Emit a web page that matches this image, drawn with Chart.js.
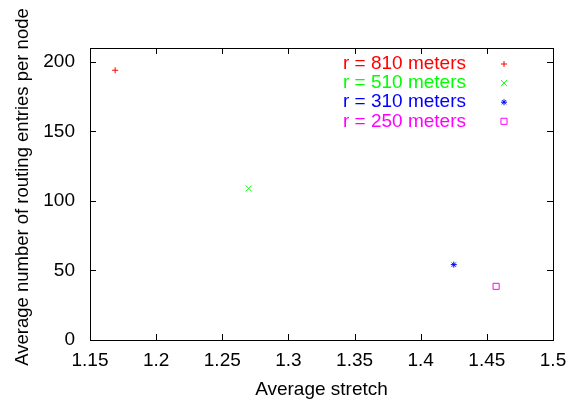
<!DOCTYPE html>
<html>
<head>
<meta charset="utf-8">
<script src="https://cdn.jsdelivr.net/npm/chart.js@4/dist/chart.umd.min.js"></script>
<style>
  html, body { margin: 0; padding: 0; background: #fff; }
  #wrap { width: 584px; height: 403px; }
</style>
</head>
<body>
<div id="wrap"><canvas id="stretchChart" width="584" height="403"></canvas></div>
<script>
// valores
const seriesLabels = ['r = 810 meters', 'r = 510 meters', 'r = 310 meters', 'r = 250 meters'];
const stretchValues = [1.169, 1.270, 1.425, 1.457];
const entryValues = [194, 109, 54.2, 38.6];
const seriesColors = ['#ff0000', '#00ff00', '#0000ff', '#ff00ff'];
const seriesStyles = ['cross', 'crossRot', 'star', 'rect'];
const seriesRadius = [3, 4.2, 3, 4.3];
const xTickValues = [1.15, 1.2, 1.25, 1.3, 1.35, 1.4, 1.45, 1.5];
const yTickValues = [0, 50, 100, 150, 200];
const yTitle = 'Average number of routing entries per node';

const FONT = { family: '"Liberation Sans", Arial, sans-serif', size: 19 };

// moldura + marcas de escala para dentro (estilo gnuplot) + legenda interna
const gnuplotFrame = {
    id: 'gnuplotFrame',
    afterDatasetsDraw(chart) {
        const ctx = chart.ctx;
        const a = chart.chartArea;
        const xs = chart.scales.x, ys = chart.scales.y;
        const tick = 6;
        ctx.save();
        ctx.strokeStyle = '#000';
        ctx.lineWidth = 1;
        ctx.beginPath();
        xs.ticks.forEach(t => {
            const px = Math.round(xs.getPixelForValue(t.value)) + 0.5;
            ctx.moveTo(px, a.bottom); ctx.lineTo(px, a.bottom - tick);
            ctx.moveTo(px, a.top); ctx.lineTo(px, a.top + tick);
        });
        ys.ticks.forEach(t => {
            const py = Math.round(ys.getPixelForValue(t.value)) + 0.5;
            ctx.moveTo(a.left, py); ctx.lineTo(a.left + tick, py);
            ctx.moveTo(a.right, py); ctx.lineTo(a.right - tick, py);
        });
        ctx.stroke();
        ctx.strokeRect(Math.round(a.left) + 0.5, Math.round(a.top) + 0.5,
            Math.round(a.right - a.left), Math.round(a.bottom - a.top));

        // título do eixo y (um pouco acima do centro, como no original)
        ctx.save();
        ctx.translate(23, (a.top + a.bottom) / 2 - 7);
        ctx.rotate(-Math.PI / 2);
        ctx.font = '18.5px ' + FONT.family;
        ctx.fillStyle = '#000';
        ctx.textAlign = 'center';
        ctx.textBaseline = 'middle';
        ctx.fillText(yTitle, 0, 0);
        ctx.restore();

        // legenda
        ctx.font = FONT.size + 'px ' + FONT.family;
        ctx.textAlign = 'right';
        ctx.textBaseline = 'middle';
        chart.data.datasets.forEach((ds, i) => {
            const y = a.top + 16 + 19.1 * i;
            ctx.fillStyle = ds.borderColor;
            ctx.fillText(ds.label, a.right - 87, y);
            ctx.strokeStyle = ds.borderColor;
            ctx.fillStyle = 'rgba(0,0,0,0)';
            ctx.lineWidth = 1;
            Chart.helpers.drawPoint(ctx, {
                pointStyle: ds.pointStyle, rotation: 0,
                radius: ds.pointRadius, borderWidth: 1
            }, a.right - 49, y);
        });
        ctx.restore();
    }
};

const ctx = document.getElementById('stretchChart').getContext('2d');

new Chart(ctx, {
    type: 'scatter',
    data: {
        datasets: seriesLabels.map((label, i) => ({
            label: label,
            data: [{ x: stretchValues[i], y: entryValues[i] }],
            borderColor: seriesColors[i],
            backgroundColor: 'rgba(0,0,0,0)',
            pointStyle: seriesStyles[i],
            pointRadius: seriesRadius[i],
            pointBorderWidth: 1,
            borderWidth: 1
        }))
    },
    options: {
        responsive: false,
        animation: false,
        layout: { padding: { left: 0, right: 31, top: 48, bottom: 0 } },
        plugins: {
            legend: { display: false },
            tooltip: { enabled: false }
        },
        scales: {
            x: {
                type: 'linear',
                min: 1.15,
                max: 1.5,
                afterBuildTicks: s => { s.ticks = xTickValues.map(v => ({ value: v })); },
                afterFit: s => { s.height = 63; },
                grid: { display: false, drawTicks: false },
                border: { display: false },
                ticks: { color: '#000', font: FONT, padding: 9, maxRotation: 0, autoSkip: false,
                         callback: v => String(v) },
                title: { display: true, text: 'Average stretch', color: '#000', font: FONT,
                         padding: { top: 0, bottom: 2 } }
            },
            y: {
                type: 'linear',
                min: 0,
                max: 210,
                afterBuildTicks: s => { s.ticks = yTickValues.map(v => ({ value: v })); },
                afterFit: s => { s.width = 90; },
                grid: { display: false, drawTicks: false },
                border: { display: false },
                ticks: { color: '#000', font: FONT, padding: 15, callback: v => String(v) },
                title: { display: false }
            }
        }
    },
    plugins: [gnuplotFrame]
});
</script>
</body>
</html>
